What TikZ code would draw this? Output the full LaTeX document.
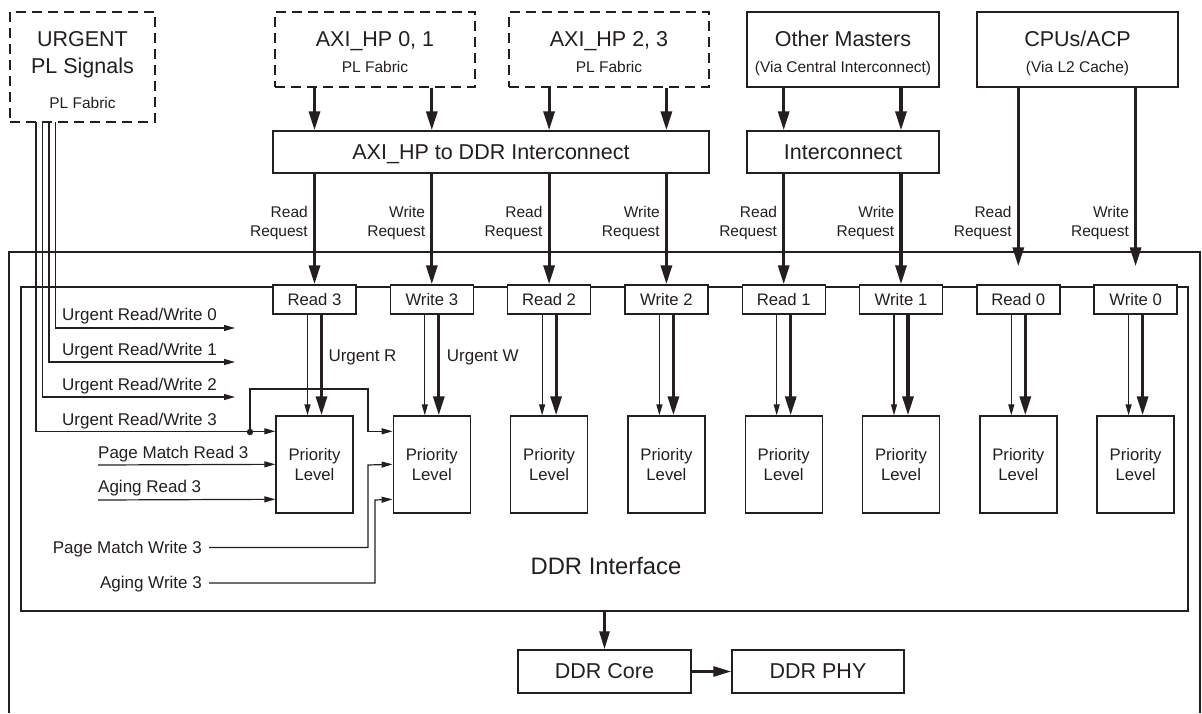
\documentclass[tikz,border=0pt]{standalone}
\usepackage{fontspec}
\setmainfont{Liberation Sans}
\usetikzlibrary{arrows.meta,calc}
\definecolor{ink}{HTML}{231F20}
\newcommand\fBigA{\fontsize{21.5}{24}\selectfont}
\newcommand\fSubA{\fontsize{15.5}{18.4}\selectfont}
\newcommand\fMedA{\fontsize{16.7}{19.5}\selectfont}
\newcommand\fLabA{\fontsize{17}{20}\selectfont}
\newcommand\fDdrA{\fontsize{23.8}{26}\selectfont}
\begin{document}
\begin{tikzpicture}[x=1pt,y=-1pt,line join=miter,
  box/.style={draw=ink,line width=1.4pt,fill=white,inner sep=0pt,text=ink},
  dbox/.style={box,dash pattern=on 10pt off 6pt},
  txt/.style={inner sep=0pt,text=ink},
  thk/.style={draw=ink,line width=3.2pt,-{Triangle[length=19pt,width=11pt]}},
  med/.style={draw=ink,line width=2.8pt,-{Triangle[length=18pt,width=10pt]}},
  thn/.style={draw=ink,line width=1.2pt,-{Triangle[length=11pt,width=6pt]}},
  ln/.style={draw=ink,line width=1.4pt}]
\fill[white] (0,0) rectangle (1202,713);
\useasboundingbox (0,0) rectangle (1202,713);

% outer DDR block (open at the bottom of the picture)
\draw[ln] (9,713) |- (1200,252) -- (1200,713);
% inner DDR interface box
\node[box,fill=none,minimum width=1167pt,minimum height=324pt] (inner) at (604.5,449) {};

% top sources
\node[dbox,minimum width=145pt,minimum height=110pt] (urg) at (82.5,67) {};
\node[txt,font=\fBigA,anchor=base] (urgA) at (82.5,46) {URGENT};
\node[txt,font=\fBigA,anchor=base] (urgB) at (82.5,73.5) {PL Signals};
\node[txt,font=\fSubA,anchor=base] (urgC) at (82.5,108) {PL Fabric};

\node[dbox,minimum width=200pt,minimum height=75pt] (axi01) at (375,49.5) {};
\node[txt,font=\fBigA,anchor=base] (axi01A) at (375,46) {AXI\_HP 0, 1};
\node[txt,font=\fSubA,anchor=base] (axi01B) at (375,72) {PL Fabric};

\node[dbox,minimum width=200pt,minimum height=75pt] (axi23) at (609,49.5) {};
\node[txt,font=\fBigA,anchor=base] (axi23A) at (609,46) {AXI\_HP 2, 3};
\node[txt,font=\fSubA,anchor=base] (axi23B) at (609,72) {PL Fabric};

\node[box,minimum width=192pt,minimum height=75pt] (other) at (843,49.5) {};
\node[txt,font=\fBigA,anchor=base] (otherA) at (843,46) {Other Masters};
\node[txt,font=\fSubA,anchor=base] (otherB) at (843,72) {(Via Central Interconnect)};

\node[box,minimum width=201pt,minimum height=75pt] (cpu) at (1077.5,49.5) {};
\node[txt,font=\fBigA,anchor=base] (cpuA) at (1077.5,46) {CPUs/ACP};
\node[txt,font=\fSubA,anchor=base] (cpuB) at (1077.5,72) {(Via L2 Cache)};

% interconnects
\node[box,font=\fBigA,minimum width=436pt,minimum height=42pt,text depth=0pt] (axihp) at (491,152) {AXI\_HP to DDR Interconnect};
\node[box,font=\fBigA,minimum width=192pt,minimum height=42pt] (inter) at (843,152) {Interconnect};

% ports and priority levels
\foreach \i/\nm/\lab in {0/r3/Read 3,1/w3/Write 3,2/r2/Read 2,3/w2/Write 2,4/r1/Read 1,5/w1/Write 1,6/r0/Read 0,7/w0/Write 0}{
  \pgfmathsetmacro\cx{314.5+117.3*\i}
  \node[box,font=\fMedA,minimum width=83pt,minimum height=29pt] (\nm) at (\cx,299.5) {\lab};
  \node[box,font=\fMedA,align=center,minimum width=77pt,minimum height=97pt] (p\nm) at (\cx,464.5) {Priority\\Level};
  \draw[thn] ($(\nm.south)+(-7,0)$) -- ($(p\nm.north)+(-7,0)$);
  \draw[thk] ($(\nm.south)+(7,0)$) -- ($(p\nm.north)+(7,0)$);
}
\foreach \nm/\rw in {r3/Read,w3/Write,r2/Read,w2/Write,r1/Read,w1/Write,r0/Read,w0/Write}{
  \node[txt,font=\fSubA,anchor=base east] (\nm-a) at ($(\nm.north)+(-6.5,-66.7)$) {\rw};
  \node[txt,font=\fSubA,anchor=base east] (\nm-b) at ($(\nm.north)+(-6.5,-48.3)$) {Request};
}

% request arrows
\foreach \nm/\src/\dst in {r3/axi01/axihp,w3/axi01/axihp,r2/axi23/axihp,w2/axi23/axihp,r1/other/inter,w1/other/inter}{
  \draw[thk] (\src.south -| \nm.north) -- (\dst.north -| \nm.north);
  \draw[thk] (\dst.south -| \nm.north) -- (\nm.north);
}
\foreach \nm in {r0,w0}{
  \draw[thk] (cpu.south -| \nm.north) -- ($(\nm.north)+(0,-18)$);
}

% urgent signals
\coordinate (ua0) at (55.7,122);
\coordinate (ua1) at (49,122);
\coordinate (ua2) at (42.7,122);
\coordinate (ua3) at (36,122);
\coordinate (ue0) at (235,328);
\coordinate (ue1) at (235,362);
\coordinate (ue2) at (235,397);
\draw[thn] (ua0) |- (ue0);
\draw[thn] (ua1) |- (ue1);
\draw[thn] (ua2) |- (ue2);
\draw[thn] (ua3) |- ($(pr3.north west)+(0,16)$);
\node[txt,font=\fLabA,anchor=base west] (u0T) at (62,320.7) {Urgent Read/Write 0};
\node[txt,font=\fLabA,anchor=base west] (u1T) at (62,355.5) {Urgent Read/Write 1};
\node[txt,font=\fLabA,anchor=base west] (u2T) at (62,390) {Urgent Read/Write 2};
\node[txt,font=\fLabA,anchor=base west] (u3T) at (62,425) {Urgent Read/Write 3};

\coordinate (dot) at (250,432);
\coordinate (jn) at (368,389);
\draw[thn] (dot) |- (jn) |- ($(pw3.north west)+(0,16)$);
\fill[ink] (dot) circle (3.2pt);

\coordinate (pmr0) at (98,465);
\coordinate (ar0) at (98,500);
\draw[thn] (pmr0) -- ($(pr3.north west)+(0,49)$);
\draw[thn] (ar0) -- ($(pr3.north west)+(0,84)$);
\node[txt,font=\fLabA,anchor=base west] (pmrT) at (98,458) {Page Match Read 3};
\node[txt,font=\fLabA,anchor=base west] (arT) at (98,492) {Aging Read 3};

\coordinate (pmw0) at (209,547.5);
\coordinate (jw1) at (368,465);
\coordinate (aw0) at (209,583);
\coordinate (jw2) at (375,500);
\draw[thn] (pmw0) -| (jw1) -- ($(pw3.north west)+(0,49)$);
\draw[thn] (aw0) -| (jw2) -- ($(pw3.north west)+(0,84)$);
\node[txt,font=\fLabA,anchor=base east] (pmwT) at (202,553) {Page Match Write 3};
\node[txt,font=\fLabA,anchor=base east] (awT) at (202,588) {Aging Write 3};

\node[txt,font=\fLabA,anchor=base west] (urT) at (328.3,361) {Urgent R};
\node[txt,font=\fLabA,anchor=base west] (uwT) at (446.7,361) {Urgent W};

% DDR core
\node[txt,font=\fDdrA,anchor=base] (ddrT) at (606,574.3) {DDR Interface};
\node[box,font=\fBigA,minimum width=173pt,minimum height=43pt] (core) at (604.5,671.5) {DDR Core};
\node[box,font=\fBigA,minimum width=172pt,minimum height=43pt] (phy) at (818,671.5) {DDR PHY};
\draw[med] (inner.south -| core.north) -- (core.north);
\draw[med] (core.east) -- (phy.west);
\end{tikzpicture}
\end{document}
